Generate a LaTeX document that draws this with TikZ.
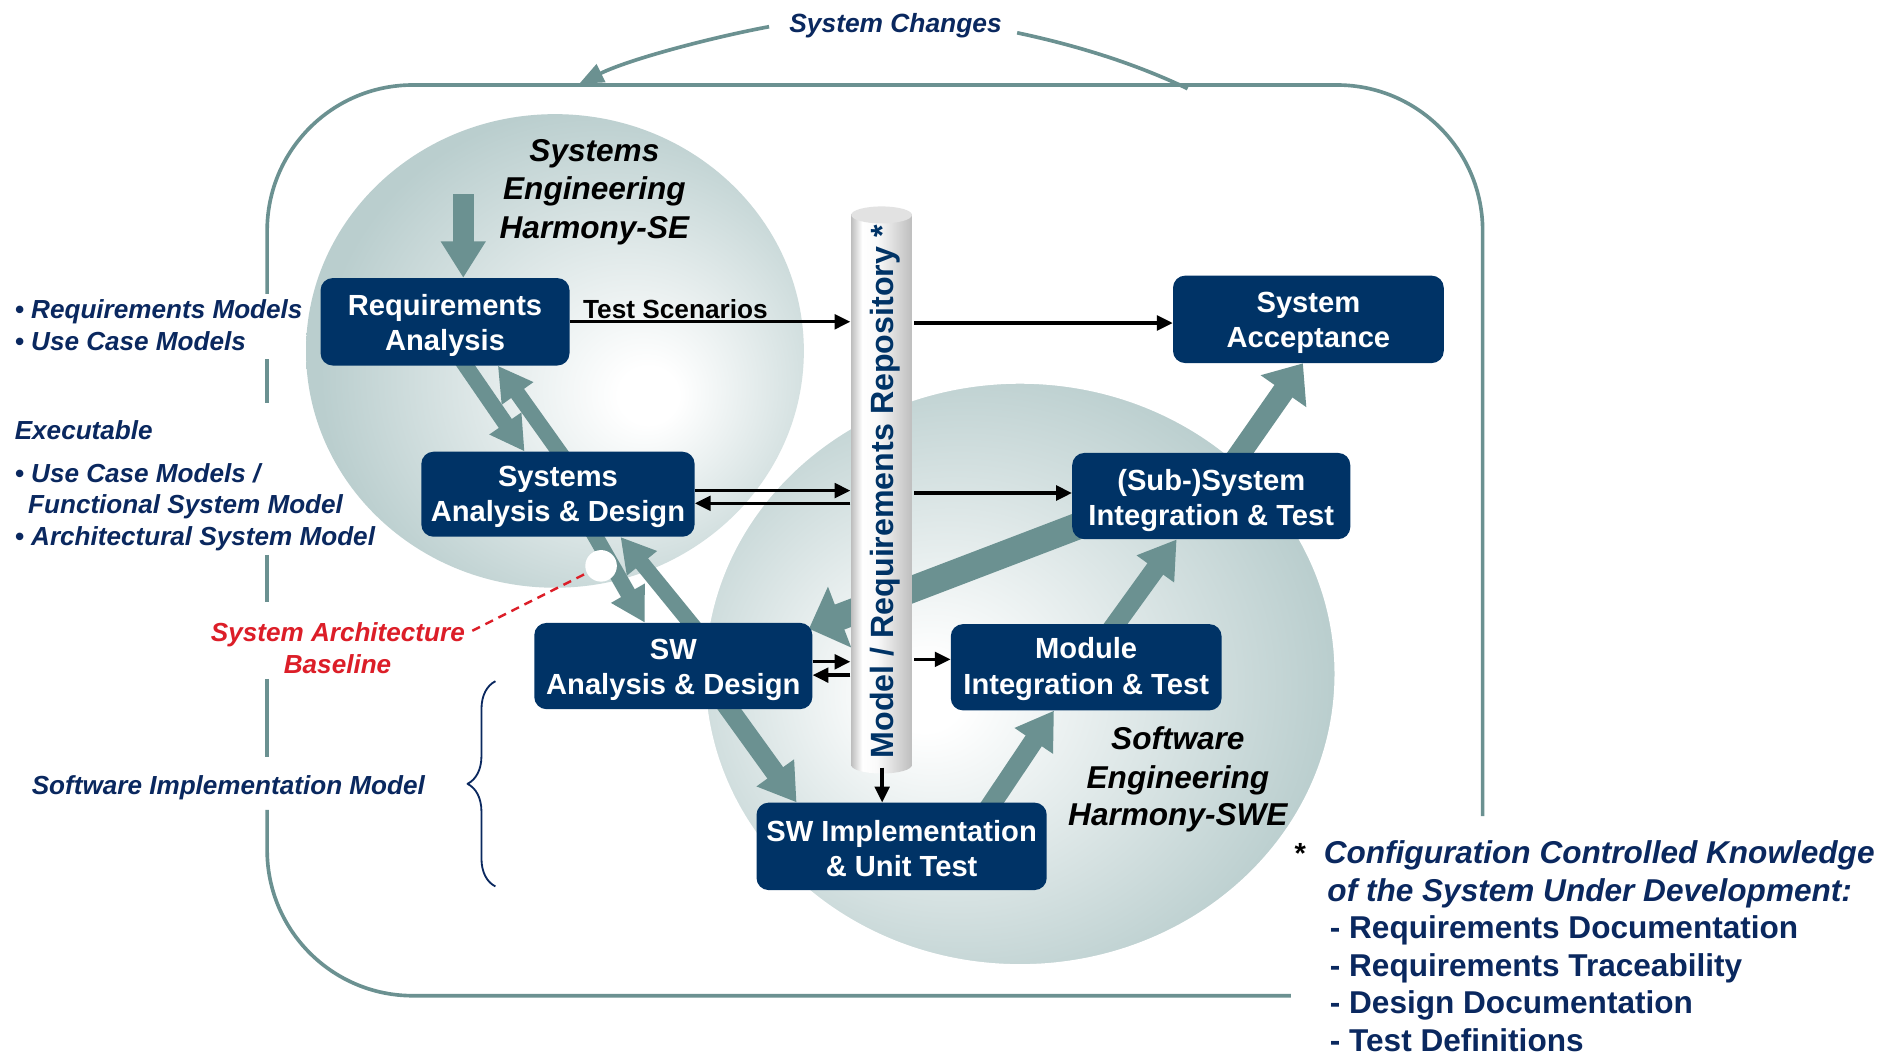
\documentclass[tikz,border=0pt]{standalone}
\usepackage{fontspec}
\setmainfont{Liberation Sans}
\usetikzlibrary{arrows.meta,decorations.pathreplacing}
\definecolor{navy}{RGB}{0,51,102}
\definecolor{txtnavy}{RGB}{10,40,95}
\definecolor{ballc}{RGB}{186,206,206}
\definecolor{fatc}{RGB}{107,145,145}
\definecolor{framec}{RGB}{107,145,145}
\definecolor{redc}{RGB}{220,30,40}
\definecolor{cylg}{RGB}{190,190,190}
\definecolor{cyltop}{RGB}{226,226,226}
\pgfdeclareradialshading{seshade}{\pgfpoint{10bp}{-5bp}}{color(0bp)=(white); color(3bp)=(white); color(28bp)=(ballc); color(50bp)=(ballc)}
\pgfdeclareradialshading{sweshade}{\pgfpoint{-8bp}{-2bp}}{color(0bp)=(white); color(3bp)=(white); color(28bp)=(ballc); color(50bp)=(ballc)}
\pgfdeclarehorizontalshading{cylshade}{100bp}{color(0bp)=(cylg); color(25bp)=(cylg); color(34bp)=(white); color(46bp)=(white!92!cylg); color(75bp)=(cylg); color(100bp)=(cylg)}
\pgfdeclarelayer{back}
\pgfdeclarelayer{mid}
\pgfsetlayers{back,mid,main}
\begin{document}
\begin{tikzpicture}[x=1pt,y=-1pt,line join=round,
  box/.style={fill=navy, rounded corners=10pt, inner sep=0pt},
  boxtxt/.style={text=white, align=center, inner sep=0pt, font=\fontsize{24}{29}\selectfont\bfseries},
  fat/.style n args={3}{draw=fatc, line width=#1, -{Triangle[width=#2,length=#3]}},
  blk/.style={draw=black, line width=2.8pt, -{Triangle[width=12pt,length=13pt]}},
  lt/.style={text=txtnavy, font=\fontsize{21.5}{26}\selectfont\bfseries\itshape, inner sep=0pt},
  ttl/.style={text=black, font=\fontsize{26}{31}\selectfont\bfseries\itshape, inner sep=0pt, anchor=base},
  fn/.style={text=txtnavy, font=\fontsize{26}{31}\selectfont\bfseries, inner sep=0pt, anchor=base west},
  outerline/.style={draw=framec, line width=3pt},
]
\useasboundingbox (0,0) rectangle (1568,870);

% ---------- boxes (main layer) ----------
\node[box, minimum width=205pt, minimum height=72pt] (ra) at (366.5,265) {};
\node[box, minimum width=225pt, minimum height=70pt] (sad) at (459.5,407) {};
\node[box, minimum width=223pt, minimum height=72pt] (sacc) at (1077.5,263) {};
\node[box, minimum width=229pt, minimum height=71pt] (sit) at (997.5,408.5) {};
\node[box, minimum width=229pt, minimum height=71pt] (swad) at (554.5,548.5) {};
\node[box, minimum width=223pt, minimum height=71pt] (mit) at (894.5,549.5) {};
\node[box, minimum width=239pt, minimum height=72pt] (swi) at (742.5,697) {};
\node[minimum width=52pt, minimum height=456pt, inner sep=0pt] (repo) at (726.5,404) {};

\node[boxtxt] (ra-t) at ([yshift=-3pt]ra.center) {Requirements\\Analysis};
\node[boxtxt] (sad-t) at ([yshift=-2.5pt]sad.center) {Systems\\Analysis \& Design};
\node[boxtxt] (sacc-t) at ([yshift=-3pt]sacc.center) {System\\Acceptance};
\node[boxtxt] (sit-t) at ([yshift=-3.5pt]sit.center) {(Sub-)System\\Integration \& Test};
\node[boxtxt] (swad-t) at ([yshift=-3.5pt]swad.center) {SW\\Analysis \& Design};
\node[boxtxt] (mit-t) at ([yshift=-1.5pt]mit.center) {Module\\Integration \& Test};
\node[boxtxt] (swi-t) at ([yshift=-2pt]swi.center) {SW Implementation\\\& Unit Test};

% ---------- background ----------
\begin{pgfonlayer}{back}
\fill[white] (0,0) rectangle (1568,870);
\shade[shading=seshade] (457,289) ellipse [x radius=205pt, y radius=195pt];
\shade[shading=sweshade, draw=white, line width=6pt] (840,555) ellipse [x radius=262pt, y radius=242pt];
% outer frame
\draw[outerline, rounded corners=120pt] (220,242) -- (220,70) -- (1221,70) -- (1221,672);
\draw[outerline] (220,296) -- (220,332);
\draw[outerline] (220,457) -- (220,496);
\draw[outerline] (220,559) -- (220,623);
\draw[outerline, rounded corners=120pt] (220,667) -- (220,820) -- (1063,820);
\end{pgfonlayer}

% system changes
\node[text=txtnavy, font=\fontsize{21.7}{26}\selectfont\bfseries\itshape, inner sep=0pt] (sc) at (737.5,21) {System Changes};
\coordinate (scR) at (978,73);
\coordinate (scL) at (477,69);
\draw[outerline] ([xshift=12.5pt,yshift=-6pt]sc.east) .. controls (880,36) and (930,50) .. (scR);
\draw[outerline, -{Triangle[width=16pt,length=20pt]}] ([xshift=-16.5pt,yshift=-1pt]sc.west) .. controls (590,30) and (520,48) .. (scL);

% ---------- fat arrows, white dot, cylinder (mid layer) ----------
\begin{pgfonlayer}{mid}
\coordinate (din) at (381.5,160);
\draw[fat={17pt}{35pt}{30pt}] (din) -- ([xshift=15pt]ra.north);
\draw[fat={13pt}{30pt}{28pt}] ([xshift=11.5pt,yshift=8pt]ra.south) -- ([xshift=-27.5pt]sad.north);
\draw[fat={13pt}{30pt}{28pt}] ([xshift=6.5pt,yshift=-8pt]sad.north) -- ([xshift=43.5pt]ra.south);
\draw[fat={13pt}{30pt}{28pt}] ([xshift=26.5pt,yshift=8pt]sad.south) -- ([xshift=-23.5pt]swad.north);
\draw[fat={13pt}{30pt}{28pt}] ([xshift=20.5pt,yshift=-8pt]swad.north) -- ([xshift=51.5pt]sad.south);
\draw[fat={16pt}{36pt}{30pt}] ([xshift=40.5pt,yshift=8pt]swad.south) -- ([xshift=-86.5pt]swi.north);
\draw[fat={16pt}{36pt}{30pt}] ([xshift=69.5pt,yshift=-8pt]swi.north) -- ([xshift=-26.5pt]mit.south);
\draw[fat={16pt}{36pt}{30pt}] ([xshift=18.5pt,yshift=-8pt]mit.north) -- ([xshift=-28.5pt]sit.south);
\draw[fat={18pt}{44pt}{28pt}] ([xshift=18.5pt,yshift=-8pt]sit.north) -- ([xshift=-4.5pt]sacc.south);
\draw[fat={22pt}{52pt}{27pt}] ([xshift=12pt,yshift=-22pt]sit.west) -- ([xshift=-3pt,yshift=-5pt]swad.north east);

\node[circle, fill=white, minimum size=26pt, inner sep=0pt] (wc) at (495,466) {};

\shade[shading=cylshade] (701,177) rectangle (751,630);
\shade[shading=cylshade] (726,630) ellipse [x radius=25pt, y radius=7pt];
\fill[cyltop] (726,177) ellipse [x radius=25pt, y radius=7pt];
\end{pgfonlayer}
\node[rotate=90, text=navy, font=\fontsize{26.5}{31}\selectfont\bfseries, inner sep=0pt] (repotxt) at (729,405) {Model / Requirements Repository *};

% ---------- black arrows ----------
\draw[blk] (ra.east) -- (ra.east -| repo.west);
\coordinate (p1) at ([yshift=-3pt]sacc.west);
\draw[blk] (p1 -| repo.east) -- (p1);
\coordinate (p2) at ([yshift=3pt]sad.east);
\draw[blk] (p2) -- (p2 -| repo.west);
\coordinate (p3) at ([yshift=-7.5pt]sad.east);
\draw[blk] (p3 -| repo.west) -- (p3);
\coordinate (p4) at ([yshift=2.5pt]sit.west);
\draw[blk] (p4 -| repo.east) -- (p4);
\coordinate (p5) at ([yshift=3.5pt]swad.east);
\draw[blk] (p5) -- (p5 -| repo.west);
\coordinate (p6) at ([yshift=-7.5pt]swad.east);
\draw[blk] (p6 -| repo.west) -- (p6);
\coordinate (p7) at ([yshift=6.5pt]mit.west);
\draw[blk] (p7 -| repo.east) -- (p7);
\draw[blk] (repo.south) -- (repo.south |- swi.north);

\node[anchor=base west, inner sep=0pt, font=\fontsize{21.6}{26}\selectfont\bfseries] (ts) at (480,262) {Test Scenarios};

% titles
\node[ttl] (t1) at (489.5,133) {Systems};
\node[ttl] (t2) at (489.5,164) {Engineering};
\node[ttl] (t3) at (489.5,196) {Harmony-SE};
\node[ttl] (t4) at (970,617) {Software};
\node[ttl] (t5) at (970,649) {Engineering};
\node[ttl] (t6) at (970,680) {Harmony-SWE};

% left texts
\node[lt, anchor=base west] (l1) at (12,262) {• Requirements Models};
\node[lt, anchor=base west] (l2) at (12,289) {• Use Case Models};
\node[lt, anchor=base west] (l3) at (12,362) {Executable};
\node[lt, anchor=base west] (l4) at (12,397) {• Use Case Models /};
\node[lt, anchor=base west] (l5) at (23,423) {Functional System Model};
\node[lt, anchor=base west] (l6) at (12,449) {• Architectural System Model};
\node[lt, anchor=base east, text=redc] (sab) at (383,528) {System Architecture};
\node[lt, anchor=base, text=redc] (sab2) at (278,555) {Baseline};
\node[lt, anchor=base west] (l7) at (26,654) {Software Implementation Model};

\draw[redc, line width=2pt, dash pattern=on 7pt off 5pt] ([xshift=6pt,yshift=3pt]sab.east) -- (wc);

% brace
\draw[txtnavy, line width=1.5pt, decorate, decoration={brace, amplitude=23pt}] (408,730) -- (408,561);

% footnote
\node[anchor=base west, inner sep=0pt, font=\fontsize{24}{28}\selectfont\bfseries] (ast) at (1066,711) {*};
\node[fn, font=\fontsize{26}{31}\selectfont\bfseries\itshape] (f1) at (1090,711) {Configuration Controlled Knowledge};
\node[fn, font=\fontsize{26}{31}\selectfont\bfseries\itshape] (f2) at (1093,742) {of the System Under Development:};
\node[fn] (f3) at (1095,773) {- Requirements Documentation};
\node[fn] (f4) at (1095,804) {- Requirements Traceability};
\node[fn] (f5) at (1095,835) {- Design Documentation};
\node[fn] (f6) at (1095,866) {- Test Definitions};
\end{tikzpicture}
\end{document}
